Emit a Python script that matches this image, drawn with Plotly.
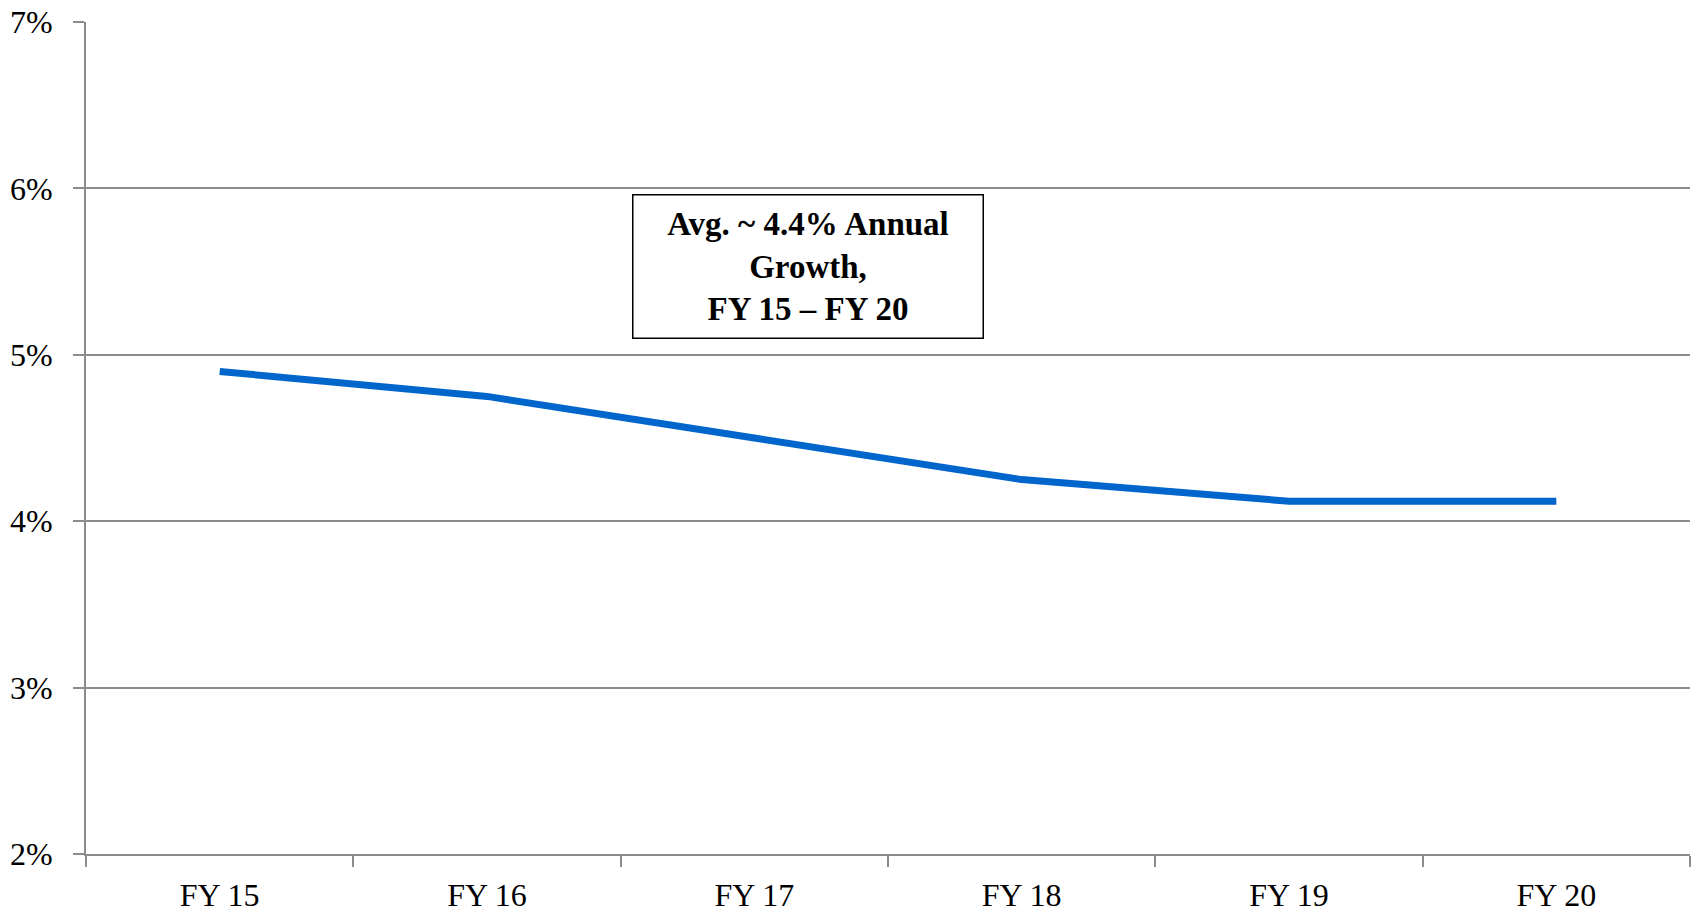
import plotly.graph_objects as go

categories = ["FY 15", "FY 16", "FY 17", "FY 18", "FY 19", "FY 20"]
growth = [4.9, 4.75, 4.5, 4.25, 4.12, 4.12]
y_ticks = [2, 3, 4, 5, 6, 7]
y_tick_labels = ["2%", "3%", "4%", "5%", "6%", "7%"]
note_text = "<b>Avg. ~ 4.4% Annual<br>Growth,<br>FY 15 – FY 20</b>"

FONT = "Palatino Linotype, Book Antiqua, Palatino, Liberation Serif, serif"
GRID = "#8c8c8c"

fig = go.Figure()
fig.add_trace(go.Scatter(
    x=categories, y=growth, mode="lines",
    line=dict(color="#0066cc", width=7),
    hoverinfo="skip", showlegend=False,
))

fig.add_annotation(
    x=2.2, y=5.53, xref="x", yref="y",
    text=note_text, showarrow=False,
    font=dict(family=FONT, size=33, color="#000000"),
    align="center",
    bordercolor="#000000", borderwidth=1.5, borderpad=10,
    bgcolor="#ffffff", width=329, height=122,
)

fig.update_layout(
    width=1696, height=915,
    margin=dict(l=86, r=6, t=22, b=61),
    paper_bgcolor="#ffffff", plot_bgcolor="#ffffff",
    font=dict(family=FONT, size=32, color="#000000"),
    xaxis=dict(
        type="category", range=[-0.5, 5.5], automargin=False,
        showgrid=False, showline=True, linecolor=GRID, linewidth=2,
        ticks="outside", tickson="boundaries", ticklen=11, tickwidth=2, tickcolor=GRID,
        tickfont=dict(family=FONT, size=32), ticklabelstandoff=12,
        zeroline=False,
    ),
    yaxis=dict(
        range=[2, 7], tickvals=y_ticks, ticktext=y_tick_labels, automargin=False,
        showgrid=True, gridcolor=GRID, gridwidth=2,
        showline=True, linecolor=GRID, linewidth=2,
        ticks="outside", ticklen=11, tickwidth=2, tickcolor=GRID,
        tickfont=dict(family=FONT, size=32), ticklabelstandoff=14,
        zeroline=False,
    ),
)

fig.write_html(
    "out.html",
    config={"displayModeBar": False},
    post_script="document.body.style.margin='0';document.body.style.overflow='hidden';",
)
